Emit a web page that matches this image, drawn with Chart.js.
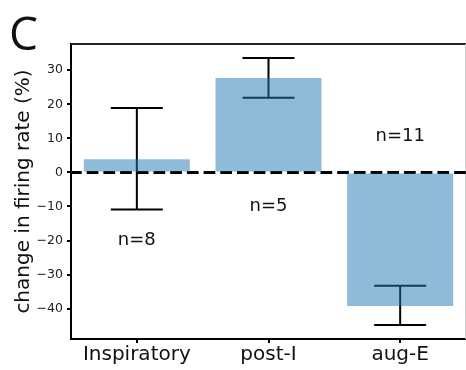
<!DOCTYPE html>
<html>
<head>
<meta charset="utf-8">
<script src="https://cdn.jsdelivr.net/npm/chart.js@4/dist/chart.umd.min.js"></script>
<style>
    body { margin: 0; background: #fff; }
    #wrap { position: relative; width: 466px; height: 370px; }
    #panel { position: absolute; left: 9px; top: 1px; font: 46px "Open Sans", sans-serif; line-height: normal; color: #111; }
</style>
</head>
<body>
<div id="wrap">
    <canvas id="myChart" width="466" height="370"></canvas>
    <div id="panel">C</div>
</div>
<script>
var categories = ['Inspiratory', 'post-I', 'aug-E'];
var meanChange = [3.9, 27.7, -39.2];
var errHigh = [18.9, 33.6, -33.3];
var errLow = [-10.9, 21.9, -44.8];
var nLabels = ['n=8', 'n=5', 'n=11'];
var nLabelY = [-20, -10, 10.5];
var yTicks = [-40, -30, -20, -10, 0, 10, 20, 30];

Chart.defaults.font.family = '"DejaVu Sans", Verdana, sans-serif';

// zero line + error bars go under the (semi transparent) bars
var underBars = {
    id: 'underBars',
    beforeDatasetsDraw: function(chart) {
        var c = chart.ctx, x = chart.scales.x, y = chart.scales.y, a = chart.chartArea;
        c.save();
        // frame: top and right
        c.strokeStyle = '#222';
        c.lineWidth = 2;
        c.beginPath();
        c.moveTo(a.left, a.top);
        c.lineTo(a.right, a.top);
        c.stroke();
        c.strokeStyle = '#d0d0d0';
        c.lineWidth = 1;
        c.beginPath();
        c.moveTo(a.right - 0.5, a.top);
        c.lineTo(a.right - 0.5, a.bottom);
        c.stroke();

        var y0 = y.getPixelForValue(0);
        c.strokeStyle = '#000';
        c.lineWidth = 3;
        c.setLineDash([11.7, 5]);
        c.beginPath();
        c.moveTo(a.left - 1, y0);
        c.lineTo(a.right, y0);
        c.stroke();
        c.setLineDash([]);

        c.lineWidth = 2;
        categories.forEach(function(cat, i) {
            var px = x.getPixelForValue(i);
            var top = y.getPixelForValue(errHigh[i]);
            var bot = y.getPixelForValue(errLow[i]);
            c.beginPath();
            c.moveTo(px, top); c.lineTo(px, bot);
            c.moveTo(px - 26, top); c.lineTo(px + 26, top);
            c.moveTo(px - 26, bot); c.lineTo(px + 26, bot);
            c.stroke();
        });
        c.restore();
    },
    afterDatasetsDraw: function(chart) {
        var c = chart.ctx, x = chart.scales.x, y = chart.scales.y;
        c.save();
        c.fillStyle = '#111';
        c.font = '18px "DejaVu Sans", Verdana, sans-serif';
        c.textAlign = 'center';
        c.textBaseline = 'middle';
        nLabels.forEach(function(t, i) {
            c.fillText(t, x.getPixelForValue(i), y.getPixelForValue(nLabelY[i]));
        });
        c.restore();
    }
};

new Chart(document.getElementById('myChart'), {
    type: 'bar',
    data: {
        labels: categories,
        datasets: [{
            data: meanChange,
            backgroundColor: 'rgba(31, 119, 180, 0.5)',
            borderWidth: 0,
            barPercentage: 0.805,
            categoryPercentage: 1
        }]
    },
    options: {
        responsive: false,
        animation: false,
        layout: { padding: { top: 44, left: 0, right: 0, bottom: 0 } },
        plugins: { legend: { display: false }, tooltip: { enabled: false } },
        scales: {
            x: {
                grid: { drawOnChartArea: false, offset: false, tickLength: 4, color: '#000', lineWidth: 2 },
                border: { color: '#000', width: 2 },
                ticks: { color: '#111', font: { size: 20 }, padding: 0, maxRotation: 0 },
                afterFit: function(s) { s.height = 31; }
            },
            y: {
                min: -48.9,
                max: 37.7,
                grid: { drawOnChartArea: false, tickLength: 4, color: '#000', lineWidth: 2 },
                border: { color: '#000', width: 2 },
                ticks: {
                    color: '#222',
                    font: { size: 12.5 },
                    padding: 4,
                    callback: function(v) { return v < 0 ? '\u2212' + Math.abs(v) : v; }
                },
                afterBuildTicks: function(s) { s.ticks = yTicks.map(function(v) { return { value: v }; }); },
                title: {
                    display: true,
                    text: 'change in firing rate (%)',
                    color: '#111',
                    font: { size: 20 },
                    padding: { top: 12, bottom: 0 }
                },
                afterFit: function(s) { s.width = 71; }
            }
        }
    },
    plugins: [underBars]
});
</script>
</body>
</html>
